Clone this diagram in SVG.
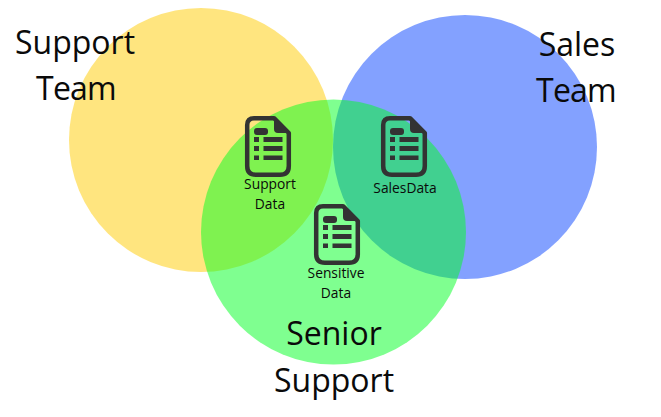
<svg xmlns="http://www.w3.org/2000/svg" width="661" height="417" viewBox="0 0 661 417">
<style>
text{font-family:"Open Sans","Noto Sans","Liberation Sans",sans-serif;fill:#0a0a0a;text-anchor:middle}
.big{font-size:32px}
.team{letter-spacing:-.8px}
.small{font-size:13.800px}
.o{fill:none;stroke:#333;stroke-width:4.500;stroke-linejoin:round}
.f{fill:#333}
</style>
<defs>
<g id="doc">
<path class="o" d="M9 2.200H29L43.800 17V50Q43.800 58.800 35 58.800H11Q2.200 58.800 2.200 50V9Q2.200 2.200 9 2.200Z"/>
<path class="f" d="M29 2L44 17H33Q29 17 29 13Z"/>
<rect class="f" x="9" y="12" width="14" height="7" rx="3"/>
<rect class="f" x="9" y="21" width="5" height="5"/>
<rect class="f" x="18.500" y="21" width="19" height="5"/>
<rect class="f" x="9" y="30" width="5" height="5"/>
<rect class="f" x="18.500" y="30" width="19" height="5"/>
<rect class="f" x="9" y="39.500" width="5" height="4.500"/>
<rect class="f" x="18.500" y="39.500" width="19" height="4.500"/>
</g>
</defs>
<rect width="661" height="417" fill="#fff"/>
<g id="support-team">
<circle cx="201" cy="140" r="132" fill="#ffcc00" fill-opacity=".5"/>
<text class="big" x="75" y="54">Support</text>
<text class="big team" x="76" y="100">Team</text>
</g>
<g id="sales-team">
<circle cx="465" cy="147" r="132" fill="#0844ff" fill-opacity=".5"/>
<text class="big" x="577" y="56">Sales</text>
<text class="big team" x="576" y="102">Team</text>
</g>
<g id="senior-support">
<circle cx="333.500" cy="232" r="132.500" fill="#00ff22" fill-opacity=".5"/>
<text class="big" x="334" y="345">Senior</text>
<text class="big" x="334" y="392">Support</text>
</g>
<g id="connectors"/>
<g id="support-data">
<use href="#doc" x="245" y="116"/>
<text class="small" x="270" y="189">Support</text>
<text class="small" x="270" y="209">Data</text>
</g>
<g id="sales-data">
<use href="#doc" x="381" y="116"/>
<text class="small" x="405" y="193">SalesData</text>
</g>
<g id="sensitive-data">
<use href="#doc" x="314" y="204"/>
<text class="small" x="336" y="278">Sensitive</text>
<text class="small" x="336" y="298">Data</text>
</g>
</svg>
